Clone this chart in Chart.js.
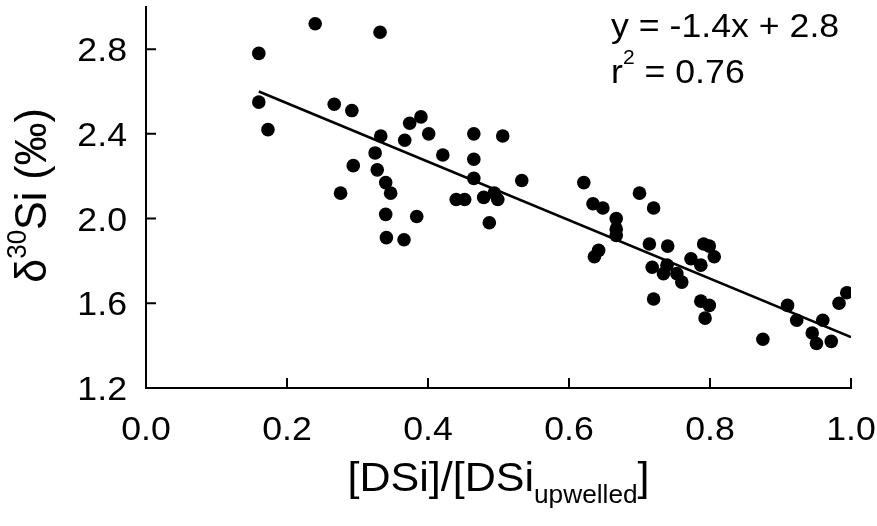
<!DOCTYPE html>
<html>
<head>
<meta charset="utf-8">
<script src="https://cdn.jsdelivr.net/npm/chart.js@4/dist/chart.umd.min.js"></script>
<style>
  html, body { margin: 0; padding: 0; background: #fff; }
</style>
</head>
<body>
<canvas id="siChart" width="877" height="526"></canvas>
<script>
// values
const ratioDSi = [
  0.160, 0.160, 0.173, 0.240, 0.267, 0.276, 0.292, 0.294, 0.325, 0.328,
  0.332, 0.333, 0.340, 0.347, 0.340, 0.341, 0.366, 0.367, 0.374, 0.384,
  0.390, 0.401, 0.421, 0.440, 0.452, 0.465, 0.465, 0.465, 0.479, 0.487,
  0.494, 0.499, 0.506, 0.533, 0.621, 0.634, 0.636, 0.642, 0.648, 0.667,
  0.667, 0.667, 0.700, 0.714, 0.718, 0.720, 0.720, 0.734, 0.739, 0.740,
  0.753, 0.760, 0.773, 0.787, 0.787, 0.791, 0.793, 0.799, 0.799, 0.806,
  0.875, 0.910, 0.923, 0.945, 0.951, 0.960, 0.972, 0.983, 0.994
];
const delta30Si = [
  2.78, 2.55, 2.42, 2.92, 2.54, 2.12, 2.51, 2.25, 2.31, 2.23,
  2.88, 2.39, 2.17, 2.12, 2.02, 1.91, 1.90, 2.37, 2.45, 2.01,
  2.48, 2.40, 2.30, 2.09, 2.09, 2.40, 2.28, 2.19, 2.10, 1.98,
  2.12, 2.09, 2.39, 2.18, 2.17, 2.07, 1.82, 1.85, 2.05, 2.00,
  1.95, 1.92, 2.12, 1.88, 1.77, 2.05, 1.62, 1.74, 1.78, 1.87,
  1.74, 1.70, 1.81, 1.78, 1.61, 1.88, 1.53, 1.87, 1.59, 1.82,
  1.43, 1.59, 1.52, 1.46, 1.41, 1.52, 1.42, 1.60, 1.65
];

// regression line end points
const fitX = [0.16, 1.0];
const fitY = [2.60, 1.44];

const xTicks = [0.0, 0.2, 0.4, 0.6, 0.8, 1.0];
const xTickLabels = ['0.0', '0.2', '0.4', '0.6', '0.8', '1.0'];
const yTicks = [1.2, 1.6, 2.0, 2.4, 2.8];
const yTickLabels = ['1.2', '1.6', '2.0', '2.4', '2.8'];

const eqText = 'y = -1.4x + 2.8';
const r2Text = ' = 0.76';

const FONT = '"Liberation Sans", Arial, sans-serif';
const SX = 1.05; // text in the figure is slightly wider than Arial

function wideText(ctx, txt, x, y, align) {
  const w = ctx.measureText(txt).width * SX;
  let x0 = x;
  if (align === 'center') x0 = x - w / 2;
  if (align === 'right') x0 = x - w;
  ctx.save();
  ctx.translate(x0, y);
  ctx.scale(SX, 1);
  ctx.textAlign = 'left';
  ctx.fillText(txt, 0, 0);
  ctx.restore();
  return w;
}

// tick marks, labels and titles are drawn by hand (inward ticks, sub/superscripts)
const axisText = {
  id: 'axisText',
  afterDraw(chart) {
    const ctx = chart.ctx;
    const xs = chart.scales.x, ys = chart.scales.y;
    const area = chart.chartArea;
    ctx.save();
    ctx.strokeStyle = '#000';
    ctx.fillStyle = '#000';
    ctx.lineWidth = 2;

    ctx.beginPath();
    yTicks.forEach(v => {
      const py = ys.getPixelForValue(v);
      ctx.moveTo(area.left, py);
      ctx.lineTo(area.left + 10, py);
    });
    xTicks.forEach(v => {
      const px = xs.getPixelForValue(v);
      ctx.moveTo(px, area.bottom);
      ctx.lineTo(px, area.bottom - 10);
    });
    ctx.stroke();

    ctx.textBaseline = 'alphabetic';
    ctx.font = '34px ' + FONT;
    yTicks.forEach((v, i) => {
      wideText(ctx, yTickLabels[i], 127, ys.getPixelForValue(v) + 12, 'right');
    });
    xTicks.forEach((v, i) => {
      wideText(ctx, xTickLabels[i], xs.getPixelForValue(v), 440, 'center');
    });

    // x title: [DSi]/[DSi_upwelled]
    const big = '41px ' + FONT, small = '25px ' + FONT;
    ctx.font = big;
    const w1 = ctx.measureText('[DSi]/[DSi').width * SX;
    const w3 = ctx.measureText(']').width * SX;
    ctx.font = small;
    const w2 = ctx.measureText('upwelled').width * SX;
    let tx = (area.left + area.right) / 2 - (w1 + w2 + w3) / 2;
    ctx.font = big;
    tx += wideText(ctx, '[DSi]/[DSi', tx, 491, 'left');
    ctx.font = small;
    tx += wideText(ctx, 'upwelled', tx, 503, 'left');
    ctx.font = big;
    wideText(ctx, ']', tx, 491, 'left');

    // y title: δ30Si (‰), rotated
    ctx.save();
    ctx.translate(46, (area.top + area.bottom) / 2 - 2);
    ctx.rotate(-Math.PI / 2);
    ctx.scale(1, SX);
    ctx.textAlign = 'left';
    const ybig = '43px ' + FONT, ysmall = '26px ' + FONT;
    ctx.font = ybig;
    const a = ctx.measureText('\u03b4').width;
    const c = ctx.measureText('Si (\u2030)').width;
    ctx.font = ysmall;
    const b = ctx.measureText('30').width;
    let ty = -(a + b + c) / 2;
    ctx.font = ybig;
    ctx.fillText('\u03b4', ty, 0); ty += a;
    ctx.font = ysmall;
    ctx.fillText('30', ty, -19); ty += b;
    ctx.font = ybig;
    ctx.fillText('Si (\u2030)', ty, 0);
    ctx.restore();

    // equation box
    ctx.font = '34px ' + FONT;
    wideText(ctx, eqText, 611, 37, 'left');
    let ex = 611;
    ex += wideText(ctx, 'r', ex, 83, 'left');
    ctx.font = '20px ' + FONT;
    ex += wideText(ctx, '2', ex, 64, 'left');
    ctx.font = '34px ' + FONT;
    wideText(ctx, r2Text, ex, 83, 'left');

    ctx.restore();
  }
};

const points = ratioDSi.map((x, i) => ({ x: x, y: delta30Si[i] }));
const fitLine = fitX.map((x, i) => ({ x: x, y: fitY[i] }));

const ctx = document.getElementById('siChart').getContext('2d');

new Chart(ctx, {
  type: 'scatter',
  data: {
    datasets: [{
      label: 'samples',
      data: points,
      backgroundColor: '#000',
      borderWidth: 0,
      pointRadius: 6.8
    }, {
      type: 'line',
      label: 'fit',
      data: fitLine,
      borderColor: '#000',
      borderWidth: 2.6,
      pointRadius: 0,
      fill: false
    }]
  },
  options: {
    responsive: false,
    animation: false,
    layout: { padding: { left: 0, right: 26, top: 3, bottom: 0 } },
    plugins: {
      legend: { display: false },
      tooltip: { enabled: false }
    },
    scales: {
      x: {
        type: 'linear',
        min: 0,
        max: 1,
        ticks: { display: false },
        grid: { display: false },
        border: { color: '#000', width: 2 },
        afterBuildTicks: s => { s.ticks = xTicks.map(v => ({ value: v })); },
        afterFit: s => { s.height = 138; }
      },
      y: {
        min: 1.2,
        max: 3.0,
        ticks: { display: false },
        grid: { display: false },
        border: { color: '#000', width: 2 },
        afterBuildTicks: s => { s.ticks = yTicks.map(v => ({ value: v })); },
        afterFit: s => { s.width = 146; }
      }
    }
  },
  plugins: [axisText]
});
</script>
</body>
</html>
